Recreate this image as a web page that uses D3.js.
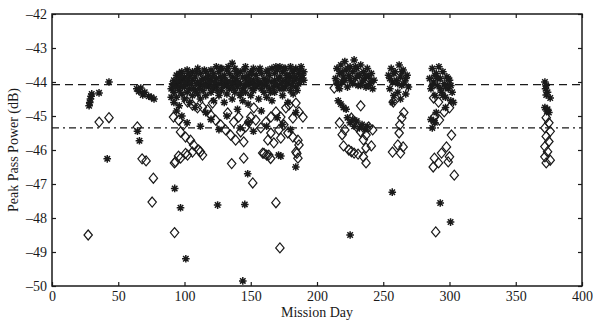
<!DOCTYPE html>
<html>
<head>
<meta charset="utf-8">
<script src="https://cdn.jsdelivr.net/npm/d3@7"></script>
<style>
  body { margin: 0; background: #fff; }
  svg { display: block; }
  .axis text { font-family: "Liberation Serif", "DejaVu Serif", serif; font-size: 14px; fill: #1a1a1a; }
  .axis line { stroke: #1a1a1a; stroke-width: 1.2; }
  .label { font-family: "Liberation Serif", "DejaVu Serif", serif; font-size: 14px; fill: #1a1a1a; }
</style>
</head>
<body>
<div id="chart"></div>
<script>
// x ticks and y ticks
const dayTicks = [0, 50, 100, 150, 200, 250, 300, 350, 400];
const powerTicks = [-50, -49, -48, -47, -46, -45, -44, -43, -42];

// reference levels (dB)
const dashedLevel = -44.08;
const dashDotLevel = -45.35;

// asterisk series: [mission day, peak pass power dB]
const starsEarly = [
  [28,-44.7],[28.5,-44.6],[29,-44.5],[29.5,-44.42],[30,-44.35],[35.5,-44.32],[43,-44.0],[41.7,-46.26],
  [64,-44.2],[65.5,-44.28],[67,-44.18],[68.5,-44.38],[70,-44.3],[73,-44.42],[75,-44.45],[77,-44.5],
  [64.5,-45.45],[66,-45.73]
];
const starsMain = [
  [90,-44.45],[90,-44.2],[92,-43.95],[92,-44.3],[92,-44.6],[94,-43.8],[94,-44.1],[94,-44.45],[94,-44.85],
  [96,-43.75],[96,-44.0],[96,-44.25],[96,-44.7],[98,-43.7],[98,-43.95],[98,-44.35],[98,-45.0],
  [100,-43.85],[100,-44.15],[100,-44.5],[102,-43.65],[102,-44.05],[102,-44.3],[102,-45.2],
  [104,-43.8],[104,-44.2],[104,-44.6],[106,-43.7],[106,-43.95],[106,-44.4],[108,-43.85],[108,-44.25],[108,-44.75],
  [110,-43.6],[110,-44.0],[110,-44.35],[112,-43.75],[112,-44.1],[112,-44.5],[112,-45.3],[114,-43.9],[114,-44.25],
  [116,-43.7],[116,-44.05],[116,-44.4],[116,-44.9],[118,-43.8],[118,-44.15],[120,-43.65],[120,-43.95],[120,-44.3],[120,-45.1],
  [122,-43.75],[122,-44.2],[122,-44.55],[124,-43.55],[124,-43.9],[124,-44.1],[126,-43.7],[126,-44.05],[126,-44.4],[126,-45.4],
  [128,-43.6],[128,-43.95],[128,-44.25],[130,-43.8],[130,-44.1],[130,-44.6],[132,-43.65],[132,-44.0],[132,-44.35],[132,-45.0],
  [134,-43.75],[134,-44.2],[136,-43.45],[136,-43.85],[136,-44.05],[136,-44.5],[138,-43.6],[138,-44.0],[138,-44.3],
  [140,-43.75],[140,-44.15],[140,-44.8],[142,-43.7],[142,-44.05],[142,-44.4],[142,-45.35],[144,-43.85],[144,-44.2],[144,-44.55],
  [146,-43.55],[146,-43.9],[146,-44.3],[148,-43.8],[148,-44.1],[148,-44.65],[148,-45.2],[150,-43.7],[150,-44.0],[150,-44.4],
  [152,-43.6],[152,-43.95],[152,-44.25],[152,-45.45],[154,-43.8],[154,-44.15],[156,-43.65],[156,-44.05],[156,-44.5],
  [158,-43.75],[158,-44.2],[158,-44.85],[160,-43.9],[160,-44.3],[162,-43.7],[162,-44.1],[162,-44.45],[162,-45.3],
  [164,-43.8],[164,-44.2],[166,-43.6],[166,-44.0],[166,-44.55],[168,-43.75],[168,-43.95],[168,-44.3],
  [170,-43.65],[170,-44.1],[170,-45.05],[172,-43.55],[172,-43.85],[172,-44.2],[174,-43.7],[174,-44.0],[174,-44.4],[174,-45.25],
  [176,-43.6],[176,-43.95],[176,-44.15],[178,-43.8],[178,-44.05],[178,-44.6],[180,-43.55],[180,-43.85],[180,-44.25],[180,-45.4],
  [182,-43.7],[182,-44.0],[182,-44.35],[184,-43.6],[184,-43.9],[184,-44.15],[184,-44.9],[186,-43.75],[186,-44.05],
  [188,-43.55],[188,-43.85],[190,-43.7],[190,-43.95],
  [91,-44.05],[93,-44.15],[95,-43.95],[97,-44.15],[99,-44.1],[101,-44.0],[103,-43.9],[105,-44.05],[107,-44.2],[109,-44.05],
  [111,-44.2],[113,-43.95],[115,-44.1],[117,-43.9],[119,-44.0],[121,-44.15],[123,-44.0],[125,-44.25],[127,-43.85],[129,-44.1],
  [131,-43.95],[133,-44.15],[135,-44.0],[137,-44.2],[139,-43.9],[141,-44.0],[143,-44.3],[145,-44.1],[147,-44.0],[149,-43.9],
  [151,-44.2],[153,-44.1],[155,-43.95],[157,-44.0],[159,-44.1],[161,-44.0],[163,-43.95],[165,-44.3],[167,-44.15],[169,-44.05],
  [171,-43.9],[173,-44.05],[175,-44.2],[177,-43.8],[179,-43.95],[181,-44.1],[183,-43.85],[185,-44.25],[187,-43.95],[189,-43.8],
  [97,-43.85],[103,-43.75],[109,-43.7],[115,-43.65],[121,-43.85],[127,-43.6],[133,-43.55],[139,-43.7],[145,-43.65],[151,-43.75],
  [157,-43.6],[163,-43.65],[169,-43.55],[175,-43.6],[181,-43.65],[187,-43.65],
  [92.6,-47.13],[97,-47.7],[101,-49.2],[125,-47.62],[145.5,-47.6],[147.7,-46.7],[144,-49.85],[172.7,-46.18],[184,-46.5],[171,-46.15]
];
const starsLate = [
  [214,-43.9],[215,-43.6],[216,-44.1],[217,-43.75],[218,-43.5],[219,-44.0],[220,-43.85],[221,-43.4],[222,-43.65],[223,-44.15],
  [224,-43.8],[225,-43.55],[226,-44.0],[227,-43.7],[228,-43.35],[229,-43.9],[230,-43.6],[231,-44.1],[232,-43.8],[233,-43.5],
  [234,-44.0],[235,-43.7],[236,-43.9],[237,-44.15],[238,-43.6],[239,-43.85],[240,-44.05],[241,-43.75],[242,-44.2],[243,-43.95],
  [215,-44.0],[217,-44.2],[219,-43.7],[221,-43.95],[223,-43.6],[225,-43.9],[227,-44.05],[229,-43.55],[231,-43.8],[233,-44.1],
  [235,-43.95],[237,-43.8],[239,-44.1],[241,-44.0],
  [216,-44.55],[218,-44.65],[220,-44.75],[222,-44.8],
  [223,-45.05],[225,-45.2],[227,-45.1],[228,-45.3],[230,-45.15],[232,-45.35],[234,-45.25],[236,-45.4],[238,-45.3],[225,-48.5],
  [254,-43.8],[255,-44.2],[256,-43.6],[257,-44.0],[258,-44.4],[259,-43.7],[260,-43.95],[261,-44.3],[262,-43.5],[263,-43.85],
  [264,-44.1],[265,-43.65],[266,-44.0],[267,-44.35],[268,-43.8],[269,-44.15],[257,-44.6],[263,-44.5],[256.8,-47.24],
  [255,-43.9],[258,-43.75],[261,-44.05],[264,-43.7],[267,-43.9],
  [285,-43.9],[286,-44.2],[287,-43.6],[288,-44.0],[289,-44.4],[290,-43.75],[291,-44.1],[292,-43.55],[293,-43.9],[294,-44.3],
  [295,-43.7],[296,-44.05],[297,-44.45],[298,-43.85],[299,-44.2],[300,-43.95],[301,-44.55],[302,-44.3],[303,-44.6],[297,-44.75],
  [287,-44.1],[289,-43.8],[291,-43.9],[293,-44.2],[295,-44.4],[297,-44.15],[299,-43.9],[301,-44.1],
  [290,-44.9],[288,-45.15],[287,-45.35],[286,-45.1],[289,-45.2],[293,-47.56],[300.8,-48.12],
  [372,-44.0],[373,-44.1],[372.5,-44.2],[374,-44.3],[373,-44.38],[376,-44.47],[372,-44.75],[373.5,-44.85],[375,-44.9],[374,-44.8]
];

// diamond series: [mission day, peak pass power dB]
const diamondsEarly = [
  [27.3,-48.5],[35.6,-45.18],[43,-45.05],
  [64.4,-45.32],[68,-46.26],[71,-46.32],[76.5,-46.83],[75.6,-47.53]
];
const diamondsMain = [
  [92.5,-48.43],[92.4,-46.38],[95.5,-46.18],[100.8,-46.1],[112,-46.05],[135.6,-46.4],[144.7,-46.24],[151.5,-46.97],
  [160,-46.1],[162,-46.15],[165,-46.25],[184.8,-46.1],[169,-47.55],[172,-48.88],
  [91.7,-45.03],[95.5,-45.12],[99.2,-45.26],[97,-45.47],[100.8,-45.62],[104.5,-45.71],[106.8,-45.85],[110.6,-46.0],
  [113.6,-46.15],[106,-46.06],[102.3,-46.15],[97,-46.24],[93.2,-46.35],[102.3,-44.59],[106,-44.68],[109.8,-44.76],
  [113.6,-44.74],[117.4,-44.82],[121.2,-44.62],[119.7,-44.97],[123.5,-45.12],[127.3,-45.26],[131,-45.41],[134.8,-45.56],
  [138.6,-45.71],[142.4,-45.47],[146.2,-45.32],[148.5,-45.18],[144.7,-45.76],[137.1,-45.18],[140.9,-45.03],[132.6,-44.91],
  [152.3,-44.76],[150,-45.03],[153.8,-45.12],[157.6,-45.35],[161.4,-45.18],[165.2,-45.03],[169,-44.88],[172.7,-45.03],
  [176.5,-44.76],[178.8,-44.68],[184.1,-44.62],[186.4,-44.88],[189.4,-45.03],[181.8,-45.06],[175,-45.26],[171.2,-45.41],
  [178,-45.5],[172.7,-45.65],[181.8,-45.62],[185.6,-45.71],[186.4,-45.85],[184.1,-46.06],[185.6,-46.24],[165.2,-45.5],
  [162.9,-45.71],[167.4,-45.79],[159,-46.09],[163.6,-46.15]
];
const diamondsLate = [
  [213,-44.18],[233,-44.7],[217,-45.2],[221,-45.41],[219,-45.55],[226,-45.06],[230,-45.32],[233,-45.47],[237,-45.56],
  [239,-45.32],[242,-45.41],[235,-45.7],[220,-45.88],[224,-46.0],[228,-46.09],[237,-45.94],[241,-45.88],[235,-46.2],
  [237,-46.38],[226,-46.05],[231,-46.12],
  [257.6,-44.59],[265.5,-44.9],[264,-45.06],[262.5,-45.26],[262,-45.5],[257,-46.06],[261,-45.85],[265,-45.91],[263,-46.09],
  [288,-44.47],[291.7,-44.59],[288.6,-45.03],[292.4,-45.12],[296,-44.88],[300,-44.76],[301.5,-45.56],[297.7,-45.91],
  [294,-46.09],[300,-46.2],[287.7,-46.5],[299,-46.35],[303.6,-46.74],[289.6,-48.41],[291.7,-46.38],[288.6,-46.24],
  [373,-45.05],[375,-45.2],[372,-45.35],[376,-45.45],[373,-45.6],[375,-45.75],[372,-45.9],[374,-46.05],[372,-46.2],
  [376,-46.3],[373,-46.38]
];

const stars = starsEarly.concat(starsMain, starsLate);
const diamonds = diamondsEarly.concat(diamondsMain, diamondsLate);

const width = 593, height = 321;
const margin = { left: 52, top: 14, right: 11, bottom: 35 };
const contentWidth = width - margin.left - margin.right;
const contentHeight = height - margin.top - margin.bottom;
const ink = '#1a1a1a';

const x = d3.scaleLinear().domain([0, 400]).range([0, contentWidth]);
const y = d3.scaleLinear().domain([-50, -42]).range([contentHeight, 0]);

const svg = d3.select('#chart').append('svg')
  .attr('width', width)
  .attr('height', height);

const g = svg.append('g')
  .attr('transform', 'translate(' + margin.left + ', ' + margin.top + ')');

const fmt = d => d < 0 ? '\u2013' + Math.abs(d) : String(d);

// axes with inward ticks on all four sides
g.append('g').attr('class', 'axis')
  .attr('transform', 'translate(0, ' + contentHeight + ')')
  .call(d3.axisBottom(x).tickValues(dayTicks).tickSize(-4).tickPadding(5).tickFormat(fmt));
g.append('g').attr('class', 'axis')
  .call(d3.axisTop(x).tickValues(dayTicks).tickSize(-4).tickFormat(''));
g.append('g').attr('class', 'axis')
  .call(d3.axisLeft(y).tickValues(powerTicks).tickSize(-4).tickPadding(5).tickFormat(fmt));
g.append('g').attr('class', 'axis')
  .attr('transform', 'translate(' + contentWidth + ', 0)')
  .call(d3.axisRight(y).tickValues(powerTicks).tickSize(-4).tickFormat(''));
g.selectAll('.axis .domain').remove();

// reference lines
g.append('line')
  .attr('x1', 0).attr('x2', contentWidth)
  .attr('y1', y(dashedLevel)).attr('y2', y(dashedLevel))
  .attr('stroke', ink).attr('stroke-width', 1.2)
  .attr('stroke-dasharray', '8,5');
g.append('line')
  .attr('x1', 0).attr('x2', contentWidth)
  .attr('y1', y(dashDotLevel)).attr('y2', y(dashDotLevel))
  .attr('stroke', ink).attr('stroke-width', 1.2)
  .attr('stroke-dasharray', '7,4,2,4');

// asterisk markers
const r = 3.8, rd = r * 0.72;
const starPath = 'M' + (-r) + ',0L' + r + ',0M0,' + (-r) + 'L0,' + r +
  'M' + (-rd) + ',' + (-rd) + 'L' + rd + ',' + rd + 'M' + (-rd) + ',' + rd + 'L' + rd + ',' + (-rd);
g.append('g').selectAll('path')
  .data(stars)
  .enter()
  .append('path')
  .attr('d', starPath)
  .attr('transform', d => 'translate(' + x(d[0]) + ',' + y(d[1]) + ')')
  .attr('stroke', ink)
  .attr('stroke-width', 1.5)
  .attr('fill', 'none');

// diamond markers
g.append('g').selectAll('path')
  .data(diamonds)
  .enter()
  .append('path')
  .attr('d', 'M0,-5L4.2,0L0,5L-4.2,0Z')
  .attr('transform', d => 'translate(' + x(d[0]) + ',' + y(d[1]) + ')')
  .attr('stroke', ink)
  .attr('stroke-width', 1.2)
  .attr('fill', 'none');

// frame
g.append('rect')
  .attr('width', contentWidth)
  .attr('height', contentHeight)
  .attr('fill', 'none')
  .attr('stroke', ink)
  .attr('stroke-width', 1.5);

// axis titles
svg.append('text').attr('class', 'label')
  .attr('x', margin.left + contentWidth / 2)
  .attr('y', 316.5)
  .attr('text-anchor', 'middle')
  .text('Mission Day');
svg.append('text').attr('class', 'label')
  .attr('transform', 'translate(18, ' + (margin.top + contentHeight / 2) + ') rotate(-90)')
  .attr('text-anchor', 'middle')
  .text('Peak Pass Power (dB)');
</script>
</body>
</html>
